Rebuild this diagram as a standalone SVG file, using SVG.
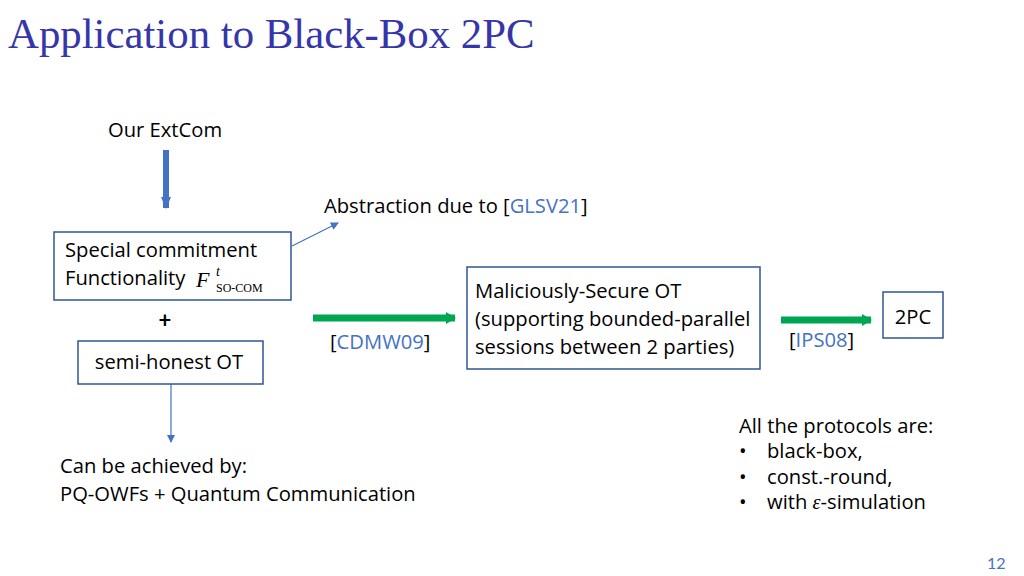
<svg xmlns="http://www.w3.org/2000/svg" width="1024" height="576" viewBox="0 0 1024 576">
<style>
.t{font-family:"Open Sans",Lato,sans-serif;font-size:20.2px;fill:#000}
.c{fill:#4472C4}
.box{fill:#fff;stroke:#2F5597;stroke-width:1.5}
.math{font-family:"Liberation Serif",serif;font-style:italic}
</style>
<defs>
<marker id="ab" markerWidth="8" markerHeight="8" refX="7" refY="4" orient="auto" markerUnits="userSpaceOnUse"><path d="M0,0 L8,4 L0,8 z" fill="#4472C4"/></marker>
<marker id="ag" markerWidth="10" markerHeight="12" refX="9" refY="6" orient="auto" markerUnits="userSpaceOnUse"><path d="M0,0 L10,6 L0,12 z" fill="#00A651"/></marker>
<marker id="abig" markerWidth="12" markerHeight="10" refX="11" refY="5" orient="auto" markerUnits="userSpaceOnUse"><path d="M0,0 L12,5 L0,10 z" fill="#4472C4"/></marker>
</defs>
<rect width="1024" height="576" fill="#fff"/>
<text x="8" y="48" font-family="Liberation Serif,serif" font-size="42.8" fill="#3636A8">Application to Black-Box 2PC</text>
<g id="connectors">
<line x1="166" y1="150" x2="166" y2="208" stroke="#4472C4" stroke-width="6" marker-end="url(#abig)"/>
<line x1="292" y1="246" x2="338" y2="223" stroke="#4472C4" stroke-width="1.2" marker-end="url(#ab)"/>
<line x1="171" y1="384" x2="171" y2="442" stroke="#4472C4" stroke-width="1.2" marker-end="url(#ab)"/>
<line x1="313" y1="318" x2="455" y2="318" stroke="#00A651" stroke-width="7" marker-end="url(#ag)"/>
<line x1="781" y1="320" x2="871" y2="320" stroke="#00A651" stroke-width="7" marker-end="url(#ag)"/>
</g>
<g id="extcom"><text class="t" x="108" y="137">Our ExtCom</text></g>
<g id="abstraction"><text class="t" x="324" y="213">Abstraction due to [<tspan class="c">GLSV21</tspan>]</text></g>
<g id="special">
<rect class="box" x="54" y="232" width="237" height="68"/>
<text class="t" x="65" y="257">Special commitment</text>
<text class="t" x="65" y="285">Functionality</text>
<text x="196" y="287" class="math" font-size="22">F</text>
<text x="216" y="276" class="math" font-size="14">t</text>
<text x="216" y="292" font-family="Liberation Serif,serif" font-size="12">SO-COM</text>
</g>
<g id="plus"><text x="165" y="328" text-anchor="middle" font-family="Lato,sans-serif" font-weight="bold" font-size="22">+</text></g>
<g id="semihonest">
<rect class="box" x="78" y="341" width="185" height="43"/>
<text class="t" x="169" y="369" text-anchor="middle">semi-honest OT</text>
</g>
<g id="achieved">
<text class="t" x="60" y="473">Can be achieved by:</text>
<text class="t" x="60" y="501">PQ-OWFs + Quantum Communication</text>
</g>
<g id="cdmw"><text class="t" x="330" y="349">[<tspan class="c">CDMW09</tspan>]</text></g>
<g id="malicious">
<rect class="box" x="467" y="267" width="293" height="102"/>
<text class="t" x="475" y="298">Maliciously-Secure OT</text>
<text class="t" x="475" y="326">(supporting bounded-parallel</text>
<text class="t" x="475" y="354">sessions between 2 parties)</text>
</g>
<g id="ips"><text class="t" x="789" y="347">[<tspan class="c">IPS08</tspan>]</text></g>
<g id="twopc">
<rect class="box" x="883" y="292" width="60" height="46"/>
<text class="t" x="913" y="324" text-anchor="middle">2PC</text>
</g>
<g id="notes">
<text class="t" x="739" y="433">All the protocols are:</text>
<text class="t" x="739" y="458" font-size="15">•</text><text class="t" x="767" y="458">black-box,</text>
<text class="t" x="739" y="484" font-size="15">•</text><text class="t" x="767" y="484">const.-round,</text>
<text class="t" x="739" y="509" font-size="15">•</text><text class="t" x="767" y="509">with <tspan class="math">ε</tspan>-simulation</text>
</g>
<text x="987" y="569" font-family="Lato,sans-serif" font-size="16" fill="#4472C4">12</text>
</svg>
